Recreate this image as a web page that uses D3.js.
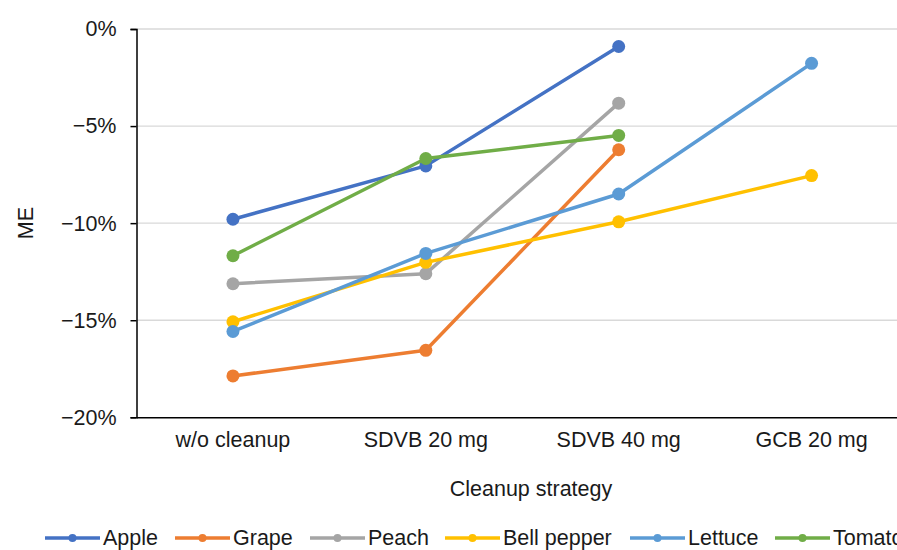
<!DOCTYPE html>
<html><head><meta charset="utf-8">
<script src="https://cdn.jsdelivr.net/npm/d3@7"></script>
<style>html,body{margin:0;padding:0;background:#fff;overflow:hidden}</style>
</head><body>
<svg id="c" width="897" height="550"></svg>
<script>
const categories = ["w/o cleanup", "SDVB 20 mg", "SDVB 40 mg", "GCB 20 mg"];
const seriesNames = ["Apple", "Grape", "Peach", "Bell pepper", "Lettuce", "Tomato"];
const apple = [-9.8, -7.05, -0.9, null];
const grape = [-17.87, -16.55, -6.22, null];
const peach = [-13.12, -12.6, -3.82, null];
const bellPepper = [-15.08, -12.02, -9.93, -7.55];
const lettuce = [-15.58, -11.56, -8.5, -1.77];
const tomato = [-11.68, -6.67, -5.48, null];
const colors = ["#4472C4", "#ED7D31", "#A5A5A5", "#FFC000", "#5B9BD5", "#70AD47"];
const yTicks = [0, -5, -10, -15, -20];

const series = [apple, grape, peach, bellPepper, lettuce, tomato].map((v, i) => ({name: seriesNames[i], values: v, color: colors[i]}));

const svg = d3.select("#c");
const font = "'Liberation Sans', Arial, sans-serif";
const fs = 21.5;
const pLeft = 136.5, pRight = 908, pTop = 29, pBottom = 417.3;

const x = d3.scaleBand().domain(categories).range([pLeft, pRight]);
const y = d3.scaleLinear().domain([-20, 0]).range([pBottom, pTop]);

// gridlines
svg.append("g").selectAll("line").data(yTicks.filter(d => d !== -20)).join("line")
  .attr("x1", pLeft).attr("x2", 897).attr("y1", d => y(d)).attr("y2", d => y(d))
  .attr("stroke", "#d9d9d9").attr("stroke-width", 1.3);

// y axis
const yAxis = svg.append("g").attr("transform", `translate(${pLeft},0)`)
  .call(d3.axisLeft(y).tickValues(yTicks).tickSize(6).tickPadding(14)
    .tickFormat(d => (d === 0 ? "0" : "\u2212" + Math.abs(d)) + "%"));
yAxis.select(".domain").attr("stroke", "#000").attr("stroke-width", 1.5);
yAxis.selectAll(".tick line").attr("stroke", "#000").attr("stroke-width", 1.5);
yAxis.selectAll("text").attr("font-family", font).attr("font-size", fs).attr("fill", "#1a1a1a");

// x axis
const xAxis = svg.append("g").attr("transform", `translate(0,${pBottom})`)
  .call(d3.axisBottom(x).tickSize(0).tickPadding(14));
xAxis.select(".domain").attr("stroke", "#000").attr("stroke-width", 1.5);
xAxis.selectAll("text").attr("font-family", font).attr("font-size", fs).attr("fill", "#1a1a1a");

// titles
svg.append("text").attr("x", 531).attr("y", 496).attr("text-anchor", "middle")
  .attr("font-family", font).attr("font-size", fs).attr("fill", "#1a1a1a").text("Cleanup strategy");
svg.append("text").attr("transform", `translate(33,${y(-10)}) rotate(-90)`).attr("text-anchor", "middle")
  .attr("font-family", font).attr("font-size", fs).attr("fill", "#1a1a1a").text("ME");

// lines
const line = d3.line().defined(d => d.v !== null).x(d => x(d.c) + x.bandwidth() / 2).y(d => y(d.v));
series.forEach(s => {
  const pts = s.values.map((v, i) => ({c: categories[i], v}));
  svg.append("path").datum(pts).attr("d", line).attr("fill", "none")
    .attr("stroke", s.color).attr("stroke-width", 3.5).attr("stroke-linejoin", "round");
  svg.append("g").selectAll("circle").data(pts.filter(d => d.v !== null)).join("circle")
    .attr("cx", d => x(d.c) + x.bandwidth() / 2).attr("cy", d => y(d.v)).attr("r", 6.5)
    .attr("fill", s.color);
});

// legend
const legendX = [45, 175, 310, 445, 630, 775];
const lg = svg.append("g");
series.forEach((s, i) => {
  const g = lg.append("g").attr("transform", `translate(${legendX[i]},538)`);
  g.append("line").attr("x1", 0).attr("x2", 55).attr("stroke", s.color).attr("stroke-width", 3.5);
  g.append("circle").attr("cx", 27.5).attr("r", 4).attr("fill", s.color);
  g.append("text").attr("x", 58).attr("y", 7).attr("font-family", font).attr("font-size", fs)
    .attr("fill", "#1a1a1a").text(s.name);
});
</script>
</body></html>
